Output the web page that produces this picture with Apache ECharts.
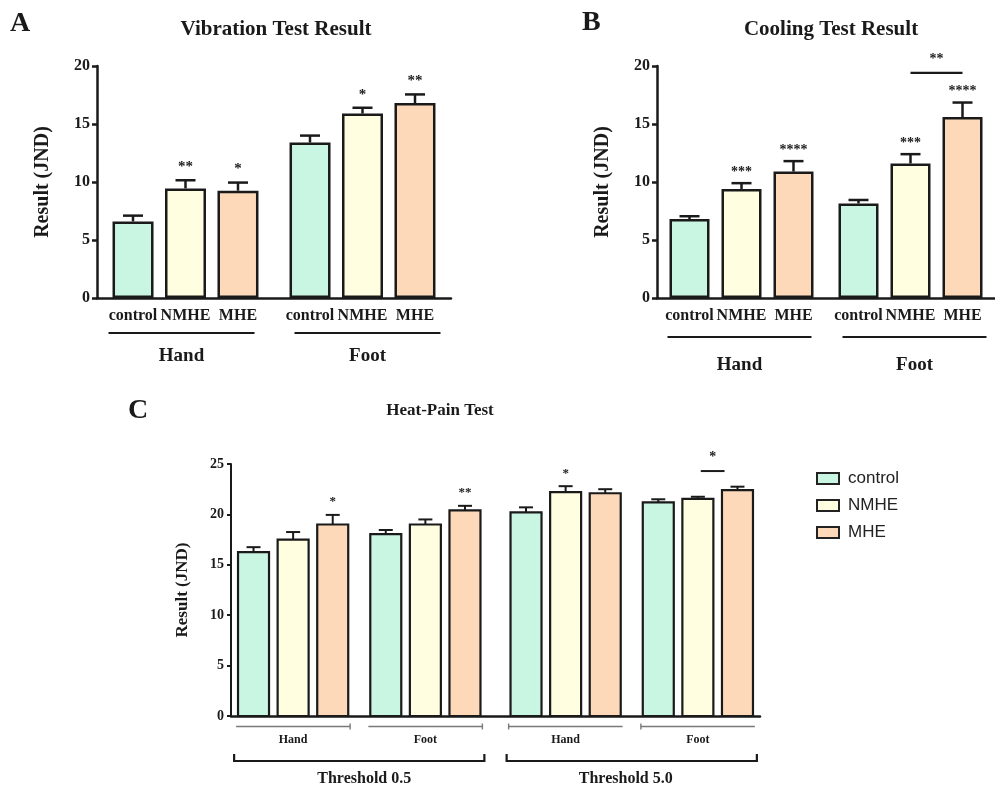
<!DOCTYPE html>
<html><head><meta charset="utf-8">
<script src="https://cdn.jsdelivr.net/npm/echarts@6/dist/echarts.min.js"></script>
<style>html,body{margin:0;padding:0;background:#fff}#c{width:995px;height:787px}</style>
</head><body><div id="c"></div>
<script>
// ---------- data ----------
const seriesNames = ['control', 'NMHE', 'MHE'];
const groupsAB = ['Hand', 'Foot'];
const yTicksAB = [0, 5, 10, 15, 20];
const yTicksC = [0, 5, 10, 15, 20, 25];

// A: Vibration
const vibControl = [6.6, 13.4];
const vibControlErr = [0.5, 0.6];
const vibNMHE = [9.45, 15.9];
const vibNMHEErr = [0.7, 0.5];
const vibMHE = [9.25, 16.8];
const vibMHEErr = [0.7, 0.75];
const vibControlSig = ['', ''];
const vibNMHESig = ['**', '*'];
const vibMHESig = ['*', '**'];

// B: Cooling
const coolControl = [6.8, 8.15];
const coolControlErr = [0.25, 0.3];
const coolNMHE = [9.4, 11.6];
const coolNMHEErr = [0.5, 0.8];
const coolMHE = [10.9, 15.6];
const coolMHEErr = [0.9, 1.25];
const coolControlSig = ['', ''];
const coolNMHESig = ['***', '***'];
const coolMHESig = ['****', '****'];
const coolBracketGroup = [1];
const coolBracketValue = [19.4];
const coolBracketLabel = ['**'];

// C: Heat-Pain
const heatCategories = ['Hand', 'Foot', 'Hand', 'Foot'];
const heatThresholds = ['Threshold 0.5', 'Threshold 5.0'];
const heatThresholdOf = [0, 0, 1, 1];
const heatControl = [16.25, 18.05, 20.2, 21.2];
const heatControlErr = [0.5, 0.4, 0.5, 0.3];
const heatNMHE = [17.5, 19.0, 22.2, 21.55];
const heatNMHEErr = [0.75, 0.5, 0.6, 0.2];
const heatMHE = [19.0, 20.4, 22.1, 22.4];
const heatMHEErr = [0.95, 0.45, 0.4, 0.35];
const heatControlSig = ['', '', '', ''];
const heatNMHESig = ['', '', '*', ''];
const heatMHESig = ['*', '**', '', ''];
const heatBracketCategory = [3];
const heatBracketValue = [24.3];
const heatBracketLabel = ['*'];

// ---------- styles ----------
const serif = "'Liberation Serif','Times New Roman',serif";
const sans = "'Liberation Sans',Arial,sans-serif";
const ink = '#1a1a1a';
const fills = ['#c9f5e3', '#fffee0', '#fdd9ba'];

const chart = echarts.init(document.getElementById('c'), null, { renderer: 'canvas' });

function yAxisCfg(gi, ticks, labelSize, nameSize, nameGap, lw, tickLen) {
  return {
    type: 'value', gridIndex: gi, min: ticks[0], max: ticks[ticks.length - 1], interval: ticks[1] - ticks[0],
    name: 'Result (JND)', nameLocation: 'middle', nameRotate: 90, nameGap: nameGap,
    nameTextStyle: { fontFamily: serif, fontWeight: 'bold', fontSize: nameSize, color: ink },
    axisLine: { show: true, lineStyle: { color: ink, width: lw } },
    axisTick: { show: true, length: tickLen, lineStyle: { color: ink, width: lw } },
    axisLabel: { margin: 7, fontFamily: serif, fontWeight: 'bold', fontSize: labelSize, color: ink },
    splitLine: { show: false }
  };
}
function xAxisCfg(gi, cats, lw) {
  return {
    type: 'category', gridIndex: gi, data: cats,
    axisLine: { show: true, lineStyle: { color: ink, width: lw } },
    axisTick: { show: false }, axisLabel: { show: false }, splitLine: { show: false }
  };
}
function barSeries(gi, k, vals, bw, gap) {
  return {
    type: 'bar', name: seriesNames[k], xAxisIndex: gi, yAxisIndex: gi, data: vals,
    barWidth: bw, barGap: gap,
    itemStyle: { color: fills[k], borderColor: ink, borderWidth: 2.5 },
    label: { show: true, position: 'bottom', distance: 10, formatter: seriesNames[k],
      fontFamily: serif, fontWeight: 'bold', fontSize: 16, color: ink },
    emphasis: { disabled: true }, silent: true, z: 2
  };
}
function errSeries(gi, k, vals, errs, sigs, pitch, cap, lw, sigSize, sigGap) {
  return {
    type: 'custom', xAxisIndex: gi, yAxisIndex: gi, z: 5, silent: true,
    data: vals.map((v, i) => [i, v, errs[i]]),
    renderItem(params, api) {
      const i = api.value(0), v = api.value(1), e = api.value(2);
      const p0 = api.coord([i, v]), p1 = api.coord([i, v + e]);
      const x = p0[0] + (k - 1) * pitch;
      const ch = [
        { type: 'line', shape: { x1: x, y1: p0[1], x2: x, y2: p1[1] }, style: { stroke: ink, lineWidth: lw } },
        { type: 'line', shape: { x1: x - cap / 2, y1: p1[1], x2: x + cap / 2, y2: p1[1] }, style: { stroke: ink, lineWidth: lw } }
      ];
      const s = sigs[params.dataIndex];
      if (s) ch.push({ type: 'text', x: x, y: p1[1] - sigGap,
        style: { text: s, fill: ink, font: 'bold ' + sigSize + 'px ' + serif, align: 'center', verticalAlign: 'middle' } });
      return { type: 'group', children: ch };
    }
  };
}
function groupSeries(gi, groups, shifts, half, lineOff, labelOff, fs) {
  return {
    type: 'custom', xAxisIndex: gi, yAxisIndex: gi, silent: true,
    data: groups.map((g, i) => [i, 0]),
    renderItem(params, api) {
      const i = api.value(0); const p = api.coord([i, 0]); const cx = p[0] + shifts[i];
      return { type: 'group', children: [
        { type: 'line', shape: { x1: cx - half, y1: p[1] + lineOff, x2: cx + half, y2: p[1] + lineOff }, style: { stroke: ink, lineWidth: 2.2 } },
        { type: 'text', x: cx, y: p[1] + labelOff, style: { text: groups[i], fill: ink, font: 'bold ' + fs + 'px ' + serif, align: 'center', verticalAlign: 'middle' } }
      ] };
    }
  };
}
function bracketSeries(gi, cats, vals, labels, pitch, mode, lw, fs, gap) {
  return {
    type: 'custom', xAxisIndex: gi, yAxisIndex: gi, silent: true, z: 6,
    data: cats.map((c, i) => [c, vals[i]]),
    renderItem(params, api) {
      const i = api.value(0), v = api.value(1);
      const p = api.coord([i, v]);
      const cx = p[0] + mode.shift(i);
      const x1 = cx + mode.from * pitch, x2 = cx + mode.to * pitch;
      return { type: 'group', children: [
        { type: 'line', shape: { x1: x1, y1: p[1], x2: x2, y2: p[1] }, style: { stroke: ink, lineWidth: lw } },
        { type: 'text', x: (x1 + x2) / 2, y: p[1] - gap, style: { text: labels[params.dataIndex], fill: ink, font: 'bold ' + fs + 'px ' + serif, align: 'center', verticalAlign: 'middle' } }
      ] };
    }
  };
}

// panel C helpers
const wC = 31, pitchC = 39.6, thrShift = [-4, 4];
function cCenter(api, i) { return api.coord([i, 0])[0] + thrShift[heatThresholdOf[i]]; }
function heatSeries(k, vals, errs, sigs) {
  return {
    type: 'custom', name: seriesNames[k], xAxisIndex: 2, yAxisIndex: 2, z: 3, silent: true,
    itemStyle: { color: fills[k], borderColor: ink, borderWidth: 2 },
    data: vals.map((v, i) => [i, v, errs[i]]),
    renderItem(params, api) {
      const i = api.value(0), v = api.value(1), e = api.value(2);
      const b = api.coord([i, 0]), t = api.coord([i, v]), et = api.coord([i, v + e]);
      const cx = cCenter(api, i) + (k - 1) * pitchC;
      const ch = [
        { type: 'line', shape: { x1: cx, y1: t[1], x2: cx, y2: et[1] }, style: { stroke: ink, lineWidth: 2 } },
        { type: 'line', shape: { x1: cx - 7, y1: et[1], x2: cx + 7, y2: et[1] }, style: { stroke: ink, lineWidth: 2 } },
        { type: 'rect', shape: { x: cx - wC / 2, y: t[1], width: wC, height: b[1] - t[1] }, style: { fill: fills[k], stroke: ink, lineWidth: 2.2 } }
      ];
      const s = sigs[params.dataIndex];
      if (s) ch.push({ type: 'text', x: cx, y: et[1] - 13, style: { text: s, fill: ink, font: 'bold 13px ' + serif, align: 'center', verticalAlign: 'middle' } });
      return { type: 'group', children: ch };
    }
  };
}
const heatSubGroupSeries = {
  type: 'custom', xAxisIndex: 2, yAxisIndex: 2, silent: true,
  data: heatCategories.map((c, i) => [i, 0]),
  renderItem(params, api) {
    const i = api.value(0); const p = api.coord([i, 0]); const cx = cCenter(api, i);
    const y = p[1] + 10.5, half = 57;
    const tx = heatThresholdOf[i] === 0 ? cx + half : cx - half;
    return { type: 'group', children: [
      { type: 'line', shape: { x1: cx - half, y1: y, x2: cx + half, y2: y }, style: { stroke: '#7a7a7a', lineWidth: 1.4 } },
      { type: 'line', shape: { x1: tx, y1: y - 3, x2: tx, y2: y + 3 }, style: { stroke: '#7a7a7a', lineWidth: 1.4 } },
      { type: 'text', x: cx, y: p[1] + 24, style: { text: heatCategories[i], fill: ink, font: 'bold 12px ' + serif, align: 'center', verticalAlign: 'middle' } }
    ] };
  }
};
const thrLabelShift = [5, -6];
const heatThresholdSeries = {
  type: 'custom', xAxisIndex: 2, yAxisIndex: 2, silent: true,
  data: heatThresholds.map((t, j) => [heatThresholdOf.indexOf(j), 0]),
  renderItem(params, api) {
    const j = params.dataIndex;
    const first = heatThresholdOf.indexOf(j), last = heatThresholdOf.lastIndexOf(j);
    const p = api.coord([first, 0]);
    const x1 = cCenter(api, first) - 59, x2 = cCenter(api, last) + 59;
    const y = p[1] + 45;
    return { type: 'group', children: [
      { type: 'polyline', shape: { points: [[x1, y - 7], [x1, y], [x2, y], [x2, y - 7]] }, style: { stroke: ink, lineWidth: 2.2, fill: null } },
      { type: 'text', x: (x1 + x2) / 2 + thrLabelShift[j], y: p[1] + 63, style: { text: heatThresholds[j], fill: ink, font: 'bold 16px ' + serif, align: 'center', verticalAlign: 'middle' } }
    ] };
  }
};

const pitchA = 52.5, pitchB = 52;
const option = {
  animation: false,
  backgroundColor: '#fff',
  grid: [
    { left: 97, top: 66, width: 354, height: 232 },
    { left: 657, top: 66, width: 352, height: 232 },
    { left: 231, top: 464, width: 529, height: 252 }
  ],
  xAxis: [xAxisCfg(0, groupsAB, 2.5), xAxisCfg(1, groupsAB, 2.5), xAxisCfg(2, heatCategories, 2.5)],
  yAxis: [yAxisCfg(0, yTicksAB, 16, 20, 44, 2.5, 5), yAxisCfg(1, yTicksAB, 16, 20, 44, 2.5, 5), yAxisCfg(2, yTicksC, 14, 17, 40, 2, 4)],
  legend: {
    orient: 'vertical', left: 811, top: 465, itemWidth: 22, itemHeight: 11, itemGap: 10,
    icon: 'rect', selectedMode: false,
    textStyle: { fontFamily: sans, fontSize: 17, color: '#222', padding: [0, 0, 0, 4] },
    data: seriesNames.map((n, k) => ({ name: n, itemStyle: { color: fills[k], borderColor: '#222', borderWidth: 2 } }))
  },
  graphic: [
    { type: 'text', x: 10, y: 24, style: { text: 'A', fill: ink, font: 'bold 28px ' + serif, verticalAlign: 'middle' } },
    { type: 'text', x: 582, y: 23, style: { text: 'B', fill: ink, font: 'bold 28px ' + serif, verticalAlign: 'middle' } },
    { type: 'text', x: 128, y: 411, style: { text: 'C', fill: ink, font: 'bold 28px ' + serif, verticalAlign: 'middle' } },
    { type: 'text', x: 276, y: 30, style: { text: 'Vibration Test Result', fill: ink, font: 'bold 21px ' + serif, align: 'center', verticalAlign: 'middle' } },
    { type: 'text', x: 831, y: 30, style: { text: 'Cooling Test Result', fill: ink, font: 'bold 21px ' + serif, align: 'center', verticalAlign: 'middle' } },
    { type: 'text', x: 440, y: 411, style: { text: 'Heat-Pain Test', fill: ink, font: 'bold 17px ' + serif, align: 'center', verticalAlign: 'middle' } }
  ],
  series: [
    barSeries(0, 0, vibControl, 41, '28%'), barSeries(0, 1, vibNMHE, 41, '28%'), barSeries(0, 2, vibMHE, 41, '28%'),
    errSeries(0, 0, vibControl, vibControlErr, vibControlSig, pitchA, 20, 2.5, 15, 13),
    errSeries(0, 1, vibNMHE, vibNMHEErr, vibNMHESig, pitchA, 20, 2.5, 15, 13),
    errSeries(0, 2, vibMHE, vibMHEErr, vibMHESig, pitchA, 20, 2.5, 15, 13),
    groupSeries(0, groupsAB, [-4, 5], 73, 35, 58, 19),

    barSeries(1, 0, coolControl, 40, '30%'), barSeries(1, 1, coolNMHE, 40, '30%'), barSeries(1, 2, coolMHE, 40, '30%'),
    errSeries(1, 0, coolControl, coolControlErr, coolControlSig, pitchB, 20, 2.5, 14, 11),
    errSeries(1, 1, coolNMHE, coolNMHEErr, coolNMHESig, pitchB, 20, 2.5, 14, 11),
    errSeries(1, 2, coolMHE, coolMHEErr, coolMHESig, pitchB, 20, 2.5, 14, 11),
    groupSeries(1, groupsAB, [-2, 4], 72, 39, 67, 19),
    bracketSeries(1, coolBracketGroup, coolBracketValue, coolBracketLabel, pitchB, { shift: () => 0, from: 0, to: 1 }, 2.2, 14, 14),

    heatSeries(0, heatControl, heatControlErr, heatControlSig),
    heatSeries(1, heatNMHE, heatNMHEErr, heatNMHESig),
    heatSeries(2, heatMHE, heatMHEErr, heatMHESig),
    heatSubGroupSeries, heatThresholdSeries,
    bracketSeries(2, heatBracketCategory, heatBracketValue, heatBracketLabel, pitchC,
      { shift: (i) => thrShift[heatThresholdOf[i]] - 5, from: 0.2, to: 0.8 }, 2, 14, 14)
  ]
};
chart.setOption(option);
</script></body></html>
